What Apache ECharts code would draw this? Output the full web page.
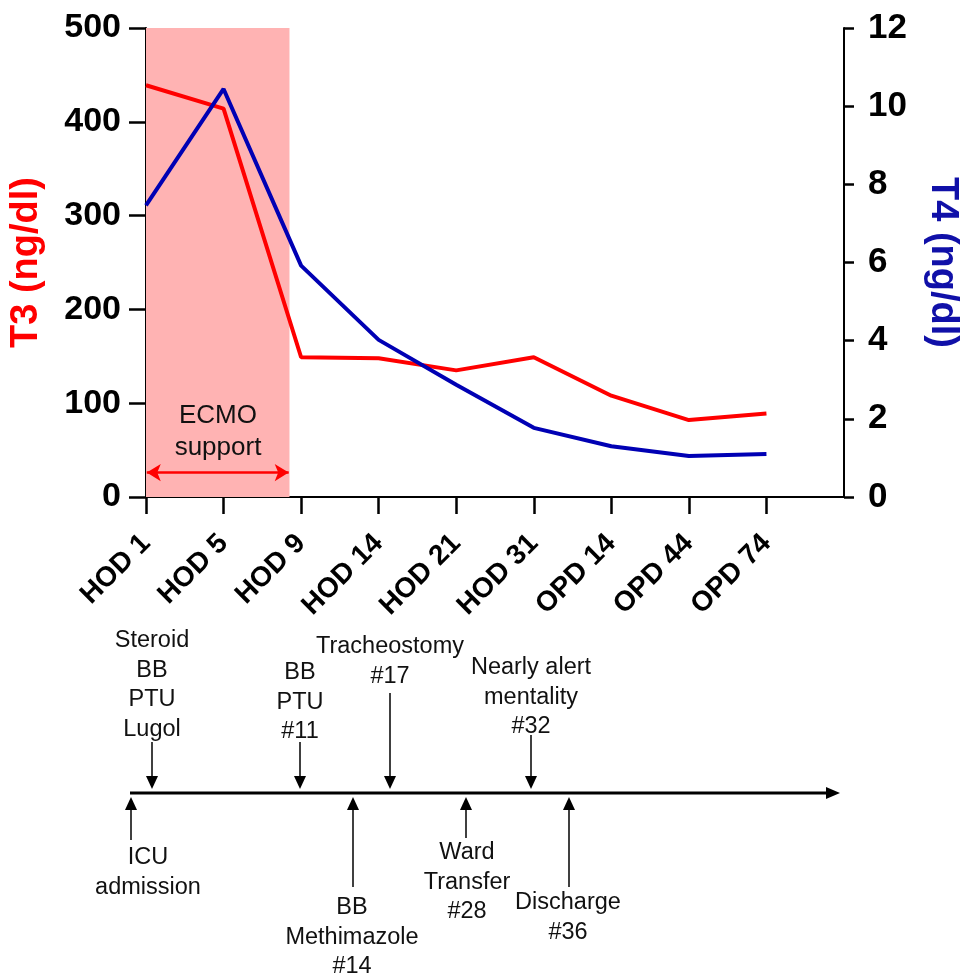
<!DOCTYPE html>
<html>
<head>
<meta charset="utf-8">
<script src="https://cdn.jsdelivr.net/npm/echarts@6/dist/echarts.min.js"></script>
<style>
html,body{margin:0;padding:0;background:#fff;overflow:hidden;}
#chart{width:969px;height:975px;}
</style>
</head>
<body>
<div id="chart"></div>
<script>
// ---- data ----
const categories = ['HOD 1','HOD 5','HOD 9','HOD 14','HOD 21','HOD 31','OPD 14','OPD 44','OPD 74'];
const t3Values = [439, 414, 149, 148, 135, 149, 108, 82, 89];
const t4Values = [7.46, 10.44, 5.92, 4.02, 2.87, 1.77, 1.30, 1.05, 1.10];
const t3Ticks = [0, 100, 200, 300, 400, 500];
const t4Ticks = [0, 2, 4, 6, 8, 10, 12];
const ecmoRange = [0, 1.85];      // in category-index units
const ecmoArrowLevel = 26;        // T3 units
const ecmoLabel = ['ECMO', 'support'];
// timeline events (text lines)
const eventsAbove = [
  ['Steroid','BB','PTU','Lugol'],
  ['BB','PTU','#11'],
  ['Tracheostomy','#17'],
  ['Nearly alert','mentality','#32']
];
const eventsBelow = [
  ['ICU','admission'],
  ['BB','Methimazole','#14'],
  ['Ward','Transfer','#28'],
  ['Discharge','#36']
];

// ---- layout (pixel positions of timeline annotations) ----
const tlY = 793, tlX0 = 130, tlX1 = 840;
const aboveLayout = [
  {x:152, textTop:626, stemTop:742},
  {x:300, textTop:658, stemTop:742},
  {x:390, textTop:632, stemTop:693},
  {x:531, textTop:653, stemTop:735}
];
const belowLayout = [
  {x:131, textX:148, textTop:843, stemBottom:840},
  {x:353, textX:352, textTop:893, stemBottom:887},
  {x:466, textX:467, textTop:838, stemBottom:838},
  {x:569, textX:568, textTop:888, stemBottom:887}
];

const FONT = '"Liberation Sans", Arial, Helvetica, sans-serif';
const chart = echarts.init(document.getElementById('chart'), null, {renderer:'canvas', width:969, height:975});

const graphics = [];
// main timeline
graphics.push({type:'line', z:100, shape:{x1:tlX0, y1:tlY, x2:tlX1-10, y2:tlY}, style:{stroke:'#000', lineWidth:3}});
graphics.push({type:'polygon', z:100, shape:{points:[[tlX1-14,tlY-6],[tlX1,tlY],[tlX1-14,tlY+6]]}, style:{fill:'#000'}});
const lh = 29.5, fs = 23.5;
eventsAbove.forEach((lines, i) => {
  const L = aboveLayout[i];
  graphics.push({type:'line', z:100, shape:{x1:L.x, y1:L.stemTop, x2:L.x, y2:tlY-14}, style:{stroke:'#000', lineWidth:1.5}});
  graphics.push({type:'polygon', z:100, shape:{points:[[L.x-6,tlY-17],[L.x+6,tlY-17],[L.x,tlY-4]]}, style:{fill:'#000'}});
  graphics.push({type:'text', z:100, x:L.x, y:L.textTop, style:{text:lines.join('\n'), font:'normal '+fs+'px '+FONT, fill:'#111', align:'center', verticalAlign:'top', lineHeight:lh}});
});
eventsBelow.forEach((lines, i) => {
  const L = belowLayout[i];
  graphics.push({type:'line', z:100, shape:{x1:L.x, y1:tlY+14, x2:L.x, y2:L.stemBottom}, style:{stroke:'#000', lineWidth:1.5}});
  graphics.push({type:'polygon', z:100, shape:{points:[[L.x-6,tlY+17],[L.x+6,tlY+17],[L.x,tlY+4]]}, style:{fill:'#000'}});
  graphics.push({type:'text', z:100, x:L.textX, y:L.textTop, style:{text:lines.join('\n'), font:'normal '+fs+'px '+FONT, fill:'#111', align:'center', verticalAlign:'top', lineHeight:lh}});
});
// ECMO label
graphics.push({type:'text', z:100, x:218, y:400, style:{text:ecmoLabel.join('\n'), font:'normal 26px '+FONT, fill:'#111', align:'center', verticalAlign:'top', lineHeight:32}});

const option = {
  backgroundColor:'#fff',
  animation:false,
  grid:{left:146, right:114, top:28, bottom:478, containLabel:false},
  xAxis:{
    type:'value', min:0, max:9, interval:1,
    axisLine:{show:true, onZero:false, lineStyle:{color:'#000', width:2}},
    axisTick:{show:true, length:17, lineStyle:{color:'#000', width:2.5}, customValues:[0,1,2,3,4,5,6,7,8]},
    axisLabel:{show:true, rotate:45, margin:42, customValues:[0,1,2,3,4,5,6,7,8],
      formatter:v => categories[Math.round(v)] || '',
      color:'#000', fontWeight:'bold', fontSize:28, fontFamily:FONT},
    splitLine:{show:false}
  },
  yAxis:[
    {type:'value', min:0, max:500, interval:100, position:'left',
      name:'T3 (ng/dl)', nameLocation:'middle', nameRotate:90, nameGap:100,
      nameTextStyle:{color:'#ff0000', fontWeight:'bold', fontSize:38, fontFamily:FONT},
      axisLine:{show:true, lineStyle:{color:'#000', width:2}},
      axisTick:{show:true, length:17, lineStyle:{color:'#000', width:2.5}},
      axisLabel:{color:'#000', fontWeight:'bold', fontSize:34, fontFamily:FONT, margin:25,
        formatter:v => t3Ticks.includes(v) ? String(v) : ''},
      splitLine:{show:false}},
    {type:'value', min:0, max:12, interval:2, position:'right',
      name:'T4 (ng/dl)', nameLocation:'middle', nameRotate:-90, nameGap:79,
      nameTextStyle:{color:'#1010a8', fontWeight:'bold', fontSize:38, fontFamily:FONT},
      axisLine:{show:true, lineStyle:{color:'#000', width:2}},
      axisTick:{show:true, length:10, lineStyle:{color:'#000', width:2.5}},
      axisLabel:{color:'#000', fontWeight:'bold', fontSize:35, fontFamily:FONT, margin:24,
        formatter:v => t4Ticks.includes(v) ? String(v) : ''},
      splitLine:{show:false}}
  ],
  series:[
    {type:'line', name:'ECMO', xAxisIndex:0, yAxisIndex:0, data:[], z:1, silent:true,
      markArea:{silent:true, itemStyle:{color:'#ffb3b3', opacity:1},
        data:[[{xAxis:ecmoRange[0], yAxis:0},{xAxis:ecmoRange[1], yAxis:500}]]},
      markLine:{silent:true, symbol:['arrow','arrow'], symbolSize:[13,14],
        lineStyle:{color:'#ff0000', width:2.5, type:'solid'}, label:{show:false},
        data:[[{coord:[ecmoRange[0]+0.01, ecmoArrowLevel]},{coord:[ecmoRange[1]-0.01, ecmoArrowLevel]}]]}
    },
    {type:'line', name:'T3', yAxisIndex:0, z:3, data:t3Values.map((v,i)=>[i,v]),
      showSymbol:false, symbol:'none', lineStyle:{color:'#ff0000', width:4}, itemStyle:{color:'#ff0000'}},
    {type:'line', name:'T4', yAxisIndex:1, z:4, data:t4Values.map((v,i)=>[i,v]),
      showSymbol:false, symbol:'none', lineStyle:{color:'#0000b4', width:4}, itemStyle:{color:'#0000b4'}}
  ],
  graphic:graphics
};
chart.setOption(option);
</script>
</body>
</html>
